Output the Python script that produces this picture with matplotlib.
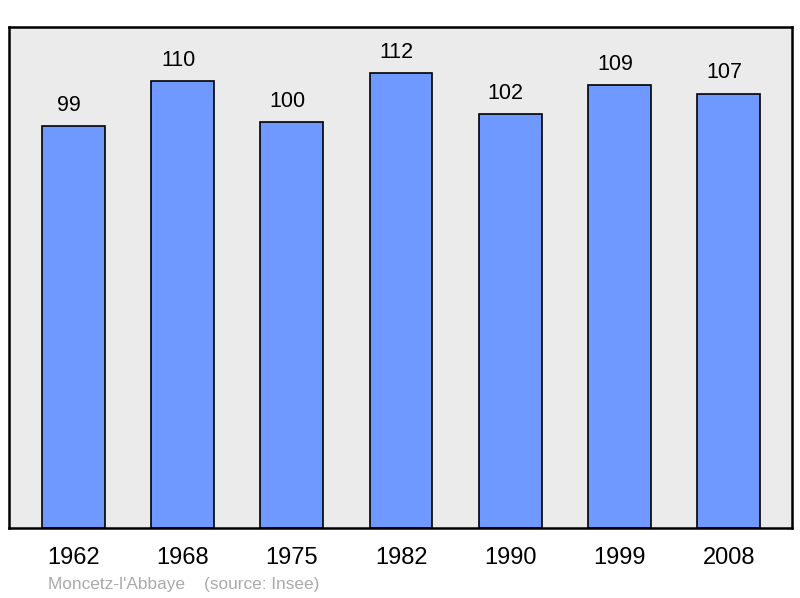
import matplotlib
matplotlib.use("Agg")
import matplotlib.pyplot as plt

years = ["1962", "1968", "1975", "1982", "1990", "1999", "2008"]
population = [99, 110, 100, 112, 102, 109, 107]
caption = "Moncetz-l'Abbaye    (source: Insee)"

plt.rcParams['font.family'] = ['Liberation Sans', 'DejaVu Sans']

fig = plt.figure(figsize=(8, 5.98), dpi=100)
ax = fig.add_axes([9/800, 70/598, 783/800, 501/598])
ax.set_facecolor('#EBEBEB')

x = list(range(len(years)))
ax.bar(x, population, width=0.576, color='#7099FF', edgecolor='black', linewidth=1.2, zorder=2)
for xi, v in zip(x, population):
    ax.annotate(str(v), (xi, v), xytext=(-3.2, 15), textcoords='offset points',
                ha='center', va='center', fontsize=15.5)

ax.set_xlim(-0.59, 6.58)
ax.set_ylim(0, 123.4)
ax.set_xticks(x)
ax.set_xticklabels(years, fontsize=17)
ax.tick_params(axis='x', length=0, pad=14)
ax.set_yticks([])
for s in ax.spines.values():
    s.set_linewidth(1.8)
    s.set_color('black')

fig.text(48/800, 1 - 584/598, caption, fontsize=12.4, color='#AAAAAA', ha='left', va='center')

fig.savefig("out.png", dpi=100)
